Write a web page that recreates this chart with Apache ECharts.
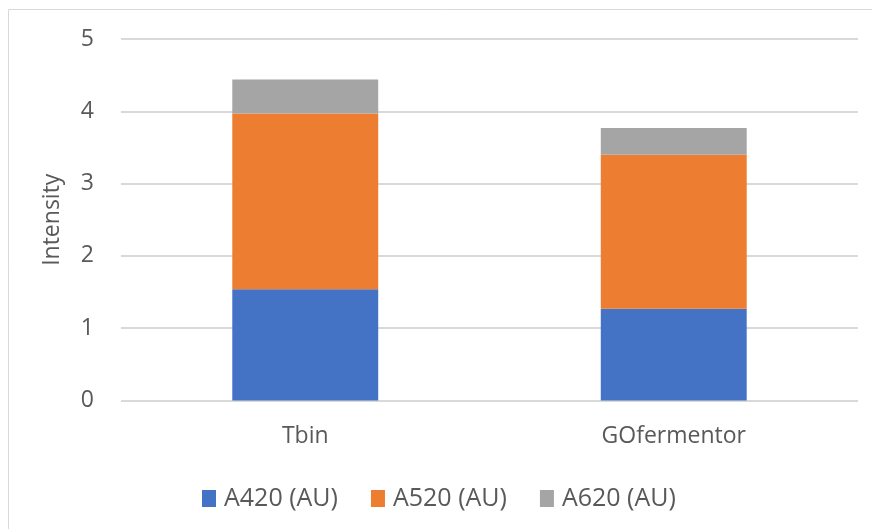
<!DOCTYPE html>
<html>
<head>
<meta charset="utf-8">
<script src="https://cdn.jsdelivr.net/npm/echarts@6/dist/echarts.min.js"></script>
<style>
  html, body { margin: 0; padding: 0; background: #ffffff; }
  #chart { width: 872px; height: 529px; }
</style>
</head>
<body>
<div id="chart"></div>
<script>
// Sample categories and absorbance readings (stacked)
const categories = ['Tbin', 'GOfermentor'];
const a420 = [1.54, 1.27];
const a520 = [2.43, 2.13];
const a620 = [0.47, 0.37];
const seriesNames = ['A420 (AU)', 'A520 (AU)', 'A620 (AU)'];
const colors = ['#4472C4', '#ED7D31', '#A5A5A5'];
const yTicks = { min: 0, max: 5, interval: 1 };

const font = '"Open Sans", "Noto Sans", sans-serif';
const textColor = '#595959';

const chart = echarts.init(document.getElementById('chart'), null, { renderer: 'canvas' });

const values = [a420, a520, a620];
const series = seriesNames.map((name, i) => ({
  name,
  type: 'bar',
  stack: 'total',
  barWidth: '39.6%',
  data: values[i],
  itemStyle: { color: colors[i] },
  emphasis: { disabled: true }
}));

chart.setOption({
  animation: false,
  backgroundColor: '#ffffff',
  graphic: [{
    type: 'rect',
    shape: { x: 8.5, y: 9.5, width: 900, height: 600 },
    style: { fill: 'none', stroke: '#d9d9d9', lineWidth: 1 },
    silent: true,
    z: -1
  }],
  grid: { left: 121, right: 14, top: 39, bottom: 128.5, containLabel: false },
  legend: {
    data: seriesNames,
    left: 197,
    top: 481,
    itemWidth: 14,
    itemHeight: 17,
    itemGap: 33,
    icon: 'rect',
    textStyle: { fontFamily: font, fontSize: 25, color: textColor, padding: [0, 0, 0, 3] }
  },
  xAxis: {
    type: 'category',
    data: categories,
    axisLine: { show: false },
    axisTick: { show: false },
    axisLabel: { fontFamily: font, fontSize: 23, color: textColor, margin: 24 }
  },
  yAxis: {
    type: 'value',
    min: yTicks.min,
    max: yTicks.max,
    interval: yTicks.interval,
    name: 'Intensity',
    nameLocation: 'middle',
    nameGap: 57,
    nameTextStyle: { fontFamily: font, fontSize: 23, color: textColor },
    axisLine: { show: false },
    axisTick: { show: false },
    axisLabel: { fontFamily: font, fontSize: 23, color: textColor, margin: 27 },
    splitLine: { lineStyle: { color: '#d9d9d9', width: 2 } }
  },
  series
});
</script>
</body>
</html>
